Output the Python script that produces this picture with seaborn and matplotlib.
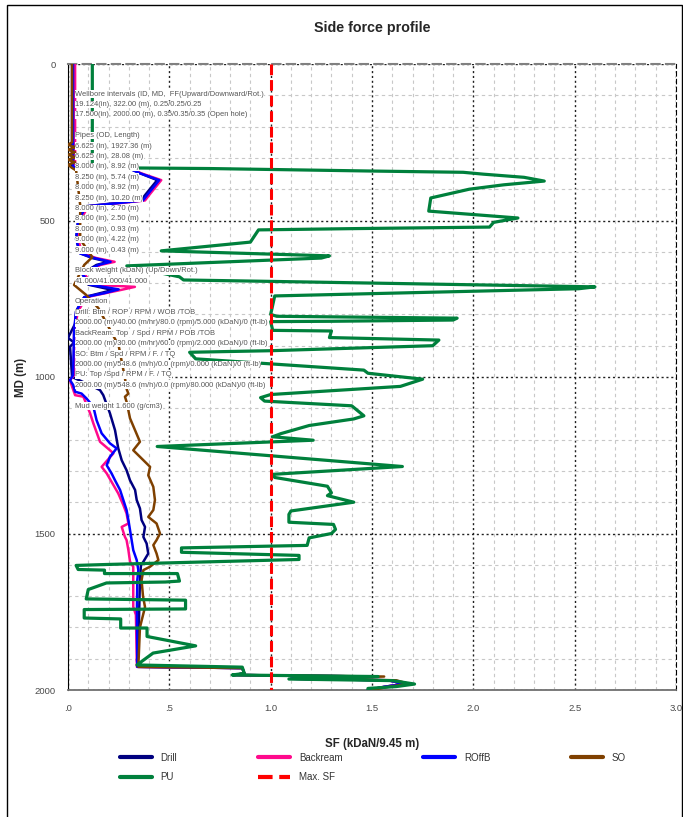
import numpy as np
import pandas as pd
import seaborn as sns
import matplotlib.pyplot as plt
from matplotlib.patches import Rectangle
from matplotlib.ticker import MultipleLocator, FixedLocator, FixedFormatter

drill_md = [0, 330, 333, 349, 371, 419, 436, 455, 500, 560, 605, 620, 632, 642, 670, 705, 722, 732, 745,
            790, 830, 875, 890, 903, 950, 1000, 1026, 1042, 1058, 1116, 1170, 1228, 1266, 1298, 1330, 1361,
            1393, 1420, 1457, 1479, 1511, 1532, 1564, 1590, 1601, 1650, 1780, 1880, 1905, 1926, 1930, 1947,
            1952, 1957, 1964, 1969, 1980, 1990, 2000]
drill_sf = [0.02, 0.02, 0.30, 0.355, 0.44, 0.38, 0.36, 0.08, 0.05, 0.04, 0.06, 0.12, 0.20, 0.14, 0.07, 0.10,
            0.22, 0.16, 0.08, 0.04, 0.035, 0.0, 0.03, 0.01, 0.015, 0.02, 0.109, 0.158, 0.174, 0.207, 0.232,
            0.248, 0.265, 0.289, 0.306, 0.331, 0.339, 0.355, 0.363, 0.380, 0.372, 0.388, 0.396, 0.372, 0.360,
            0.355, 0.35, 0.345, 0.34, 0.345, 0.86, 0.87, 0.82, 1.50, 1.10, 1.58, 1.66, 1.56, 1.48]

backream_md = [0, 330, 333, 349, 371, 419, 436, 455, 500, 560, 605, 620, 632, 642, 670, 705, 712, 722, 745,
               790, 850, 994, 1010, 1030, 1058, 1063, 1116, 1148, 1207, 1234, 1244, 1287, 1308, 1335, 1372,
               1409, 1436, 1468, 1479, 1511, 1521, 1553, 1590, 1606, 1734, 1760, 1926, 1930, 1947, 1952, 1957,
               1964, 1969, 1980, 1990, 2000]
backream_sf = [0.035, 0.035, 0.31, 0.36, 0.46, 0.40, 0.38, 0.10, 0.06, 0.05, 0.07, 0.14, 0.23, 0.16, 0.08,
               0.12, 0.33, 0.26, 0.09, 0.05, 0.03, 0.03, 0.01, 0.02, 0.035, 0.076, 0.109, 0.125, 0.158, 0.207,
               0.224, 0.166, 0.191, 0.215, 0.248, 0.273, 0.289, 0.298, 0.265, 0.281, 0.289, 0.298, 0.306, 0.322,
               0.322, 0.335, 0.340, 0.86, 0.87, 0.82, 1.50, 1.10, 1.58, 1.66, 1.56, 1.48]

roffb_md = [0, 330, 333, 349, 371, 419, 436, 455, 500, 560, 605, 620, 632, 642, 670, 705, 720, 732, 745,
            790, 850, 994, 1010, 1025, 1047, 1053, 1069, 1095, 1138, 1180, 1212, 1228, 1255, 1282, 1308, 1330,
            1361, 1393, 1425, 1457, 1489, 1521, 1553, 1585, 1617, 1649, 1750, 1926, 1930, 1947, 1952, 1957,
            1964, 1969, 1980, 1990, 2000]
roffb_sf = [0.025, 0.025, 0.30, 0.355, 0.45, 0.39, 0.37, 0.09, 0.05, 0.04, 0.06, 0.13, 0.21, 0.15, 0.07,
            0.11, 0.25, 0.18, 0.08, 0.04, 0.03, 0.025, 0.01, 0.025, 0.035, 0.067, 0.092, 0.125, 0.141, 0.166,
            0.207, 0.240, 0.207, 0.191, 0.215, 0.232, 0.257, 0.273, 0.289, 0.298, 0.306, 0.314, 0.322, 0.339,
            0.347, 0.342, 0.34, 0.342, 0.86, 0.87, 0.82, 1.50, 1.10, 1.58, 1.66, 1.56, 1.48]

so_md = [0, 250, 258, 266, 274, 282, 290, 298, 306, 314, 322, 332, 340, 450, 560, 617, 642, 680, 706, 722,
         738, 780, 900, 1000, 1040, 1053, 1063, 1079, 1132, 1207, 1234, 1255, 1287, 1314, 1351, 1393, 1425,
         1447, 1468, 1500, 1521, 1537, 1564, 1585, 1606, 1617, 1649, 1700, 1735, 1800, 1926, 1930, 1947,
         1952, 1957, 1964, 1969, 1980, 1990, 2000]
so_sf = [0.02, 0.02, 0.0, 0.035, 0.0, 0.035, 0.0, 0.035, 0.0, 0.035, 0.0, 0.02, 0.04, 0.06, 0.06, 0.12, 0.08,
         0.05, 0.03, 0.06, 0.09, 0.15, 0.25, 0.28, 0.29, 0.298, 0.281, 0.289, 0.306, 0.355, 0.322, 0.355,
         0.405, 0.396, 0.421, 0.429, 0.421, 0.396, 0.437, 0.454, 0.437, 0.421, 0.437, 0.446, 0.405, 0.372,
         0.363, 0.37, 0.38, 0.355, 0.347, 0.86, 0.87, 0.82, 1.56, 1.12, 1.62, 1.68, 1.58, 1.50]

pu_md = [0, 330, 332, 334, 338, 342, 346, 352, 362, 374, 386, 400, 428, 470, 492, 506, 521, 526, 530, 569,
         597, 613, 620, 645, 680, 690, 696, 712, 718, 741, 800, 806, 812, 818, 822, 823, 851, 853, 874, 882,
         900, 916, 921, 942, 978, 988, 1007, 1030, 1056, 1066, 1077, 1092, 1124, 1134, 1155, 1181, 1191,
         1202, 1222, 1286, 1311, 1321, 1349, 1370, 1379, 1400, 1428, 1439, 1464, 1471, 1487, 1500, 1514,
         1538, 1546, 1560, 1570, 1583, 1599, 1602, 1615, 1617, 1628, 1628, 1652, 1655, 1658, 1679, 1709,
         1713, 1741, 1743, 1770, 1773, 1802, 1802, 1829, 1859, 1882, 1920, 1927, 1947, 1952, 1957, 1965,
         1970, 1981, 1989, 1995, 2000]
pu_sf = [0.12, 0.12, 0.30, 0.70, 1.10, 1.50, 1.95, 2.05, 2.25, 2.35, 2.15, 1.98, 1.79, 1.78, 2.22, 2.10,
         2.08, 1.40, 0.94, 0.90, 0.46, 1.29, 1.25, 0.29, 0.55, 0.57, 1.14, 2.60, 2.52, 1.02, 1.00, 1.03,
         1.92, 1.90, 1.30, 1.00, 1.01, 1.30, 1.29, 1.83, 1.80, 1.00, 0.60, 0.63, 1.46, 1.48, 1.75, 1.64,
         1.00, 0.95, 0.97, 1.40, 1.46, 1.41, 1.19, 1.05, 1.01, 1.21, 0.44, 1.65, 1.01, 1.02, 1.28, 1.30,
         1.28, 1.41, 1.10, 1.09, 1.09, 1.31, 1.32, 1.30, 1.19, 1.18, 0.56, 0.56, 1.14, 1.14, 0.19, 0.04,
         0.05, 0.18, 0.18, 0.54, 0.55, 0.48, 0.19, 0.10, 0.09, 0.58, 0.58, 0.08, 0.08, 0.26, 0.26, 0.39,
         0.39, 0.63, 0.42, 0.34, 0.86, 0.87, 0.81, 1.53, 1.09, 1.60, 1.71, 1.62, 1.48, 1.48]

max_sf_md = [0, 2000]
max_sf = [1.0, 1.0]

x_ticks = [0, 0.5, 1.0, 1.5, 2.0, 2.5, 3.0]
x_ticklabels = ['.0', '.5', '1.0', '1.5', '2.0', '2.5', '3.0']
y_ticks = [0, 500, 1000, 1500, 2000]

notes = ['Wellbore intervals (ID, MD,  FF(Upward/Downward/Rot.)',
         '19.124(in), 322.00 (m), 0.25/0.25/0.25',
         '17.500(in), 2000.00 (m), 0.35/0.35/0.35 (Open hole)',
         '',
         'Pipes (OD, Length)',
         '6.625 (in), 1927.36 (m)',
         '6.625 (in), 28.08 (m)',
         '8.000 (in), 8.92 (m)',
         '8.250 (in), 5.74 (m)',
         '8.000 (in), 8.92 (m)',
         '8.250 (in), 10.20 (m)',
         '8.000 (in), 2.70 (m)',
         '8.000 (in), 2.50 (m)',
         '8.000 (in), 0.93 (m)',
         '9.000 (in), 4.22 (m)',
         '9.000 (in), 0.43 (m)',
         '',
         'Block weight (kDaN) (Up/Down/Rot.)',
         '41.000/41.000/41.000',
         '',
         'Operation',
         'Drill: Btm / ROP / RPM / WOB /TOB',
         '2000.00 (m)/40.00 (m/hr)/80.0 (rpm)/5.000 (kDaN)/0 (ft-lb)',
         'BackReam: Top  / Spd / RPM / POB /TOB',
         '2000.00 (m)/30.00 (m/hr)/60.0 (rpm)/2.000 (kDaN)/0 (ft-lb)',
         'SO: Btm / Spd / RPM / F. / TQ',
         '2000.00 (m)/548.6 (m/h)/0.0 (rpm)/0.000 (kDaN)/0 (ft-lb)',
         'PU: Top /Spd / RPM / F. / TQ',
         '2000.00 (m)/548.6 (m/h)/0.0 (rpm)/80.000 (kDaN)/0 (ft-lb)',
         '',
         'Mud weight 1.600 (g/cm3)']

series = [('Drill', drill_md, drill_sf, '#000080', 1.8, '-'),
          ('Backream', backream_md, backream_sf, '#FF0A8C', 1.8, '-'),
          ('ROffB', roffb_md, roffb_sf, '#0000FF', 1.8, '-'),
          ('SO', so_md, so_sf, '#7F4000', 1.8, '-'),
          ('PU', pu_md, pu_sf, '#00803C', 2.3, '-'),
          ('Max. SF', max_sf_md, max_sf, '#FF0000', 2.2, '--')]

sns.set_style('white')
plt.rcParams['font.family'] = ['Liberation Sans', 'DejaVu Sans']

fig = plt.figure(figsize=(6.83, 8.17), dpi=100)
ax = fig.add_axes([68 / 683, 1 - 690 / 817, 608 / 683, 626 / 817])

for name, md, sf, col, lw, ls in series:
    df = pd.DataFrame({'SF': sf, 'MD': md})
    sns.lineplot(data=df, x='SF', y='MD', sort=False, estimator=None, orient='y',
                 color=col, lw=lw, ls=ls, label=name, ax=ax,
                 zorder=6 if name == 'Max. SF' else 3)
ax.lines[-1].set_dashes([3.5, 1.6])
ax.get_legend().remove()

ax.set_xlim(0, 3.0)
ax.set_ylim(2000, 0)
ax.xaxis.set_major_locator(FixedLocator(x_ticks))
ax.xaxis.set_major_formatter(FixedFormatter(x_ticklabels))
ax.xaxis.set_minor_locator(MultipleLocator(0.1))
ax.yaxis.set_major_locator(FixedLocator(y_ticks))
ax.yaxis.set_minor_locator(MultipleLocator(100))

ax.grid(which='minor', color='#c8c8c8', ls=(0, (3, 3)), lw=0.8)
ax.grid(which='major', color='#202020', ls=(0, (1.5, 2)), lw=1.0)
ax.set_axisbelow(True)

ax.tick_params(which='both', direction='out', colors='#333333', labelsize=6.8,
               labelcolor='#4a4a4a')
ax.tick_params(which='major', length=6, width=1)
ax.tick_params(which='minor', length=4, width=1)
ax.tick_params(axis='x', pad=4)
ax.tick_params(axis='y', pad=3)

ax.spines['left'].set_color('black')
ax.spines['bottom'].set_color('#707070')
ax.spines['bottom'].set_linewidth(1.3)
ax.spines['top'].set_color('#808080')
ax.spines['top'].set_linestyle((0, (4, 3)))
ax.spines['top'].set_linewidth(1.5)
ax.spines['right'].set_color('black')
ax.spines['right'].set_linestyle((0, (4, 3)))

ax.set_xlabel('SF (kDaN/9.45 m)', fontsize=8.3, fontweight='bold', labelpad=18)
ax.set_ylabel('MD (m)', fontsize=8.3, fontweight='bold', labelpad=5)
fig.text(372 / 683, 1 - 28 / 817, 'Side force profile', ha='center', va='center',
         fontsize=10.3, fontweight='bold')

# wellbore / operation notes, drawn over the traces with a white backing
row_px = 10.4
for i, line in enumerate(notes):
    if not line:
        continue
    y = 1 - (94 + i * row_px - 64) / 626
    ax.text(0.0115, y, line, transform=ax.transAxes, fontsize=5.45, color='#555555',
            va='center', ha='left', zorder=5,
            bbox=dict(facecolor='white', edgecolor='none', pad=0.2))

handles = {l.get_label(): l for l in ax.lines}
order = ['Drill', 'PU', 'Backream', 'Max. SF', 'ROffB', 'SO']
fig.legend([handles[k] for k in order], order, ncol=4, loc='upper left',
           bbox_to_anchor=(115 / 683, 1 - 748 / 817), frameon=False, fontsize=7,
           handlelength=3.3, handletextpad=0.9, columnspacing=8.3, labelspacing=0.95,
           borderpad=0, labelcolor='#333333')
for h in fig.legends[0].legend_handles:
    h.set_linewidth(3)

fig.add_artist(Rectangle((7 / 683, -0.01), 675 / 683, 1.01 - 5 / 817, transform=fig.transFigure,
                         fill=False, ec='black', lw=1))

plt.savefig('out.png', dpi=100)
